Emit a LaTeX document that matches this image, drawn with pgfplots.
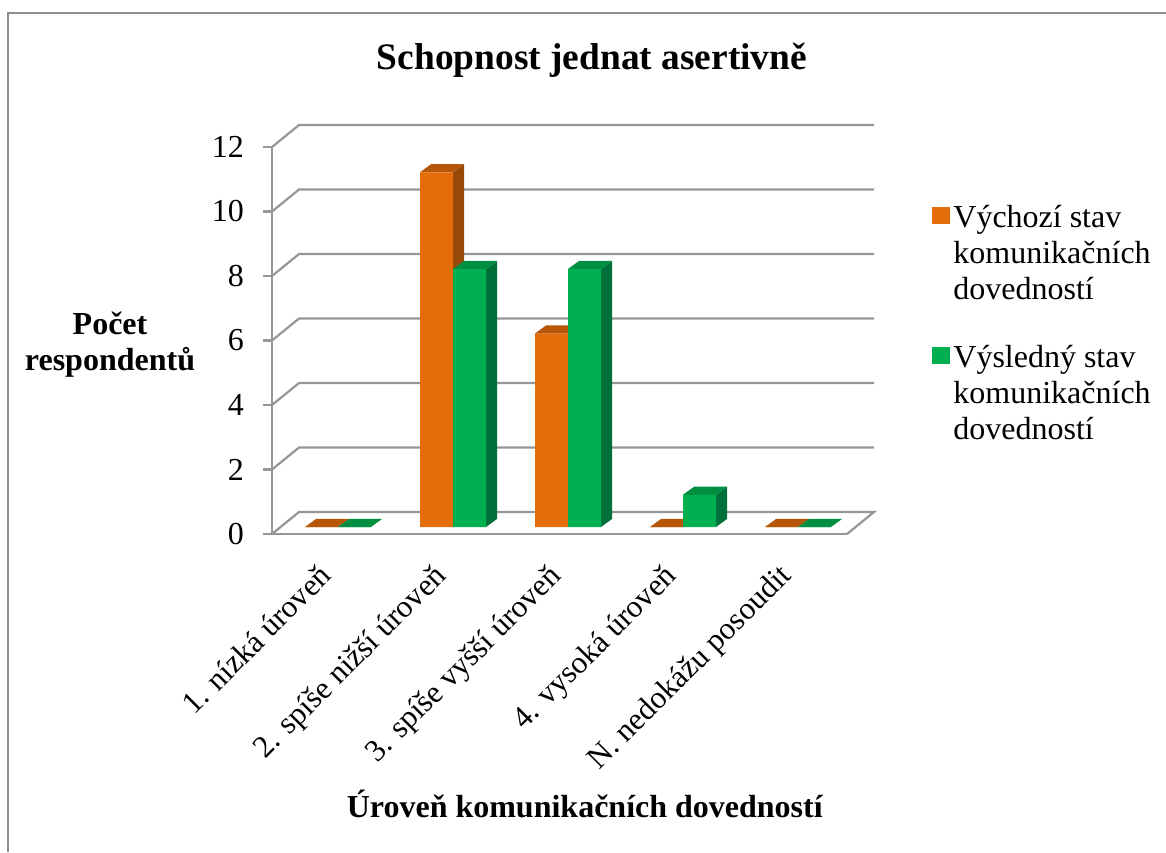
\documentclass[border=0pt]{standalone}
\usepackage{fontspec}
\setmainfont{Liberation Serif}
\usepackage{pgfplots}
\pgfplotsset{compat=1.18}
\definecolor{gridc}{HTML}{969696}
\definecolor{framec}{HTML}{8E8E8E}
\definecolor{ofront}{HTML}{E46C0A}
\definecolor{otop}{HTML}{B55608}
\definecolor{oside}{HTML}{984807}
\definecolor{gfront}{HTML}{00B050}
\definecolor{gtop}{HTML}{008E40}
\definecolor{gside}{HTML}{00703A}
\pgfplotsset{
  wall/.style={gridc,line width=1.1pt,forget plot},
  bar3d/.style={draw=none,forget plot,xshift=4.25pt,yshift=3.5pt},
  face/.style={bar3d,fill=#1},
  front/.style={bar3d,fill=#1,ybar,/pgf/bar width=16.5pt},
  swatch/.style={legend image code/.code={
    \fill[#1] (0pt,-3pt) rectangle (8.5pt,5pt);}},
}
\begin{document}
\begin{tikzpicture}[x=1pt,y=1pt]
\useasboundingbox (0,0) rectangle (583,426);
\draw[framec,line width=1.3pt] (4,0) -- (4,419.5) -- (583,419.5);
\begin{axis}[
  at={(136pt,159pt)},anchor=south west,
  scale only axis,width=287.5pt,height=193.5pt,
  xmin=-0.5,xmax=4.5,ymin=0,ymax=12,
  clip=false,
  axis x line=bottom,axis y line=left,
  axis line style={gridc,line width=1.1pt,-},
  xtick={0,1,2,3,4},
  xticklabels={1. nízká úroveň,2. spíše nižší úroveň,3. spíše vyšší úroveň,4. vysoká úroveň,N. nedokážu posoudit},
  xtick style={draw=none},
  ytick={0,2,4,6,8,10,12},
  ytick style={gridc,line width=1.1pt},
  tick align=outside,major tick length=4.5pt,
  tick label style={font=\fontsize{16}{18}\selectfont},
  /pgf/number format/assume math mode=true,
  yticklabel style={xshift=-6pt},
  xticklabel style={rotate=45,anchor=north east,xshift=-7.5pt,yshift=1pt,font=\fontsize{15.6}{18}\selectfont},
  title={Schopnost jednat asertivně},
  title style={at={(axis description cs:0.5565,1.1938)},anchor=center,font=\fontsize{18.7}{20}\selectfont\bfseries},
  xlabel={Úroveň komunikačních dovedností},
  xlabel style={at={(axis description cs:0.544,-0.698)},anchor=center,font=\fontsize{16}{18}\selectfont\bfseries},
  ylabel={Počet\\respondentů},
  ylabel style={at={(axis description cs:-0.2817,0.490)},rotate=-90,anchor=center,align=center,font=\fontsize{16}{18}\selectfont\bfseries},
  legend style={at={(axis description cs:1.136,0.872)},anchor=north west,draw=none,fill=none,
    font=\fontsize{16}{18}\selectfont,/tikz/every even column/.style={column sep=3.5pt},
    /tikz/row sep=53.5pt},
  legend cell align=left,
]
% back wall and floor
\addplot[wall] coordinates {(-0.5,0)(-0.265,0.682)(4.735,0.682)(4.5,0)};
\addplot[wall] coordinates {(-0.5,2)(-0.265,2.682)(4.735,2.682)};
\addplot[wall] coordinates {(-0.5,4)(-0.265,4.682)(4.735,4.682)};
\addplot[wall] coordinates {(-0.5,6)(-0.265,6.682)(4.735,6.682)};
\addplot[wall] coordinates {(-0.5,8)(-0.265,8.682)(4.735,8.682)};
\addplot[wall] coordinates {(-0.5,10)(-0.265,10.682)(4.735,10.682)};
\addplot[wall] coordinates {(-0.5,12)(-0.265,12.682)(4.735,12.682)};
% Vychozi stav: side and top faces
\addplot[face=otop] coordinates {(-0.287,0)(0,0)(0.096,0.25)(-0.191,0.25)} -- cycle;
\addplot[face=oside] coordinates {(1,0)(1.096,0.25)(1.096,11.25)(1,11)} -- cycle;
\addplot[face=otop] coordinates {(0.713,11)(1,11)(1.096,11.25)(0.809,11.25)} -- cycle;
\addplot[face=oside] coordinates {(2,0)(2.096,0.25)(2.096,6.25)(2,6)} -- cycle;
\addplot[face=otop] coordinates {(1.713,6)(2,6)(2.096,6.25)(1.809,6.25)} -- cycle;
\addplot[face=otop] coordinates {(2.713,0)(3,0)(3.096,0.25)(2.809,0.25)} -- cycle;
\addplot[face=otop] coordinates {(3.713,0)(4,0)(4.096,0.25)(3.809,0.25)} -- cycle;
\addplot[front=ofront,/pgf/bar shift=-8.25pt] coordinates {(0,0)(1,11)(2,6)(3,0)(4,0)};
% Vysledny stav: side and top faces
\addplot[face=gtop] coordinates {(0,0)(0.287,0)(0.383,0.25)(0.096,0.25)} -- cycle;
\addplot[face=gside] coordinates {(1.287,0)(1.383,0.25)(1.383,8.25)(1.287,8)} -- cycle;
\addplot[face=gtop] coordinates {(1,8)(1.287,8)(1.383,8.25)(1.096,8.25)} -- cycle;
\addplot[face=gside] coordinates {(2.287,0)(2.383,0.25)(2.383,8.25)(2.287,8)} -- cycle;
\addplot[face=gtop] coordinates {(2,8)(2.287,8)(2.383,8.25)(2.096,8.25)} -- cycle;
\addplot[face=gside] coordinates {(3.287,0)(3.383,0.25)(3.383,1.25)(3.287,1)} -- cycle;
\addplot[face=gtop] coordinates {(3,1)(3.287,1)(3.383,1.25)(3.096,1.25)} -- cycle;
\addplot[face=gtop] coordinates {(4,0)(4.287,0)(4.383,0.25)(4.096,0.25)} -- cycle;
\addplot[front=gfront,/pgf/bar shift=8.25pt] coordinates {(0,0)(1,8)(2,8)(3,1)(4,0)};
\addlegendimage{swatch=ofront}
\addlegendentry{\parbox[t]{105pt}{Výchozí stav\\komunikačních\\dovedností}}
\addlegendimage{swatch=gfront}
\addlegendentry{\parbox[t]{105pt}{Výsledný stav\\komunikačních\\dovedností}}
\end{axis}
\end{tikzpicture}
\end{document}
